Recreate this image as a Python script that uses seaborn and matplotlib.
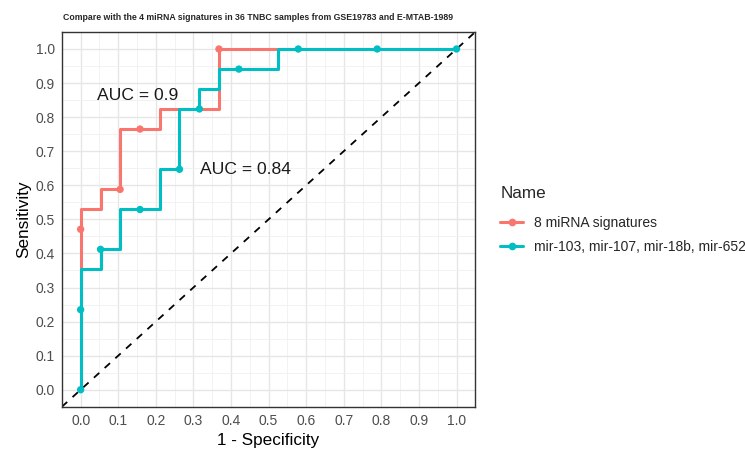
import numpy as np
import pandas as pd
import matplotlib
matplotlib.use('Agg')
import matplotlib.pyplot as plt
import seaborn as sns

names = ['8 miRNA signatures', 'mir-103, mir-107, mir-18b, mir-652']
colors = ['#F8766D', '#00BFC4']

# step curve corners (1 - specificity, sensitivity)
red_fpr = [0, 0, 0.053, 0.053, 0.105, 0.105, 0.21, 0.21, 0.368, 0.368, 1.0]
red_tpr = [0, 0.529, 0.529, 0.588, 0.588, 0.765, 0.765, 0.824, 0.824, 1.0, 1.0]
cyan_fpr = [0, 0, 0.053, 0.053, 0.105, 0.105, 0.21, 0.21, 0.263, 0.263,
            0.316, 0.316, 0.368, 0.368, 0.526, 0.526, 1.0]
cyan_tpr = [0, 0.353, 0.353, 0.412, 0.412, 0.529, 0.529, 0.647, 0.647, 0.824,
            0.824, 0.882, 0.882, 0.941, 0.941, 1.0, 1.0]

# plotted points
red_pt_x = [0, 0.105, 0.158, 0.368]
red_pt_y = [0.471, 0.588, 0.765, 1.0]
cyan_pt_x = [0, 0, 0.053, 0.158, 0.263, 0.316, 0.421, 0.579, 0.789, 1.0]
cyan_pt_y = [0, 0.235, 0.412, 0.529, 0.647, 0.824, 0.941, 1.0, 1.0, 1.0]

auc_labels = ['AUC = 0.9', 'AUC = 0.84']
auc_x = [0.151, 0.438]
auc_y = [0.863, 0.646]

lines = pd.concat([
    pd.DataFrame({'fpr': red_fpr, 'tpr': red_tpr, 'Name': names[0]}),
    pd.DataFrame({'fpr': cyan_fpr, 'tpr': cyan_tpr, 'Name': names[1]}),
], ignore_index=True)
points = pd.concat([
    pd.DataFrame({'fpr': red_pt_x, 'tpr': red_pt_y, 'Name': names[0]}),
    pd.DataFrame({'fpr': cyan_pt_x, 'tpr': cyan_pt_y, 'Name': names[1]}),
], ignore_index=True)

sns.set_style('whitegrid')
plt.rcParams['font.family'] = ['Liberation Sans', 'DejaVu Sans']

fig = plt.figure(figsize=(7.45, 4.5), dpi=100)
ax = fig.add_axes([0.083, 0.096, 0.555, 0.833])

pal = dict(zip(names, colors))
sns.lineplot(data=lines, x='fpr', y='tpr', hue='Name', palette=pal, sort=False,
             estimator=None, linewidth=2.2, ax=ax, legend=False, zorder=3)
sns.scatterplot(data=points, x='fpr', y='tpr', hue='Name', palette=pal, s=28,
                edgecolor='none', ax=ax, legend=False, zorder=4)
ax.axline((0, 0), (1, 1), color='black', linestyle=(0, (4, 4)), linewidth=1.3, zorder=2)

for t, x, y in zip(auc_labels, auc_x, auc_y):
    ax.text(x, y, t, fontsize=12.6, ha='center', va='center', color='#1a1a1a')

ticks = np.round(np.arange(0, 1.01, 0.1), 1)
ax.set_xlim(-0.05, 1.05)
ax.set_ylim(-0.05, 1.05)
ax.set_xticks(ticks)
ax.set_yticks(ticks)
ax.set_xticks(np.arange(0.05, 1.0, 0.1), minor=True)
ax.set_yticks(np.arange(0.05, 1.0, 0.1), minor=True)
ax.set_xticklabels([f'{v:.1f}' for v in ticks])
ax.set_yticklabels([f'{v:.1f}' for v in ticks])
ax.grid(which='major', color='#E6E6E6', linewidth=1.0)
ax.grid(which='minor', color='#F0F0F0', linewidth=0.6)
ax.tick_params(which='major', length=3, color='#333333', labelsize=10, labelcolor='#4D4D4D', pad=2)
ax.tick_params(which='minor', length=0)
for s in ax.spines.values():
    s.set_color('#333333')
    s.set_linewidth(1.0)
ax.set_xlabel('1 - Specificity', fontsize=12.3, color='black', labelpad=4)
ax.set_ylabel('Sensitivity', fontsize=12.3, color='black', labelpad=3)

fig.text(0.0845, 0.962, 'Compare with the 4 miRNA signatures in 36 TNBC samples from GSE19783 and E-MTAB-1989',
         fontsize=6.3, fontweight='bold', ha='left', va='center')

handles = [plt.Line2D([], [], color=c, marker='o', markersize=4.5, linewidth=2.2) for c in colors]
leg = fig.legend(handles, names, title='Name', loc='upper left', bbox_to_anchor=(0.655, 0.605),
                 frameon=False, fontsize=10, title_fontsize=12.3, handlelength=1.6,
                 labelspacing=0.75, alignment='left')
leg.get_title().set_position((0, 4))

fig.savefig('out.png', dpi=100)
